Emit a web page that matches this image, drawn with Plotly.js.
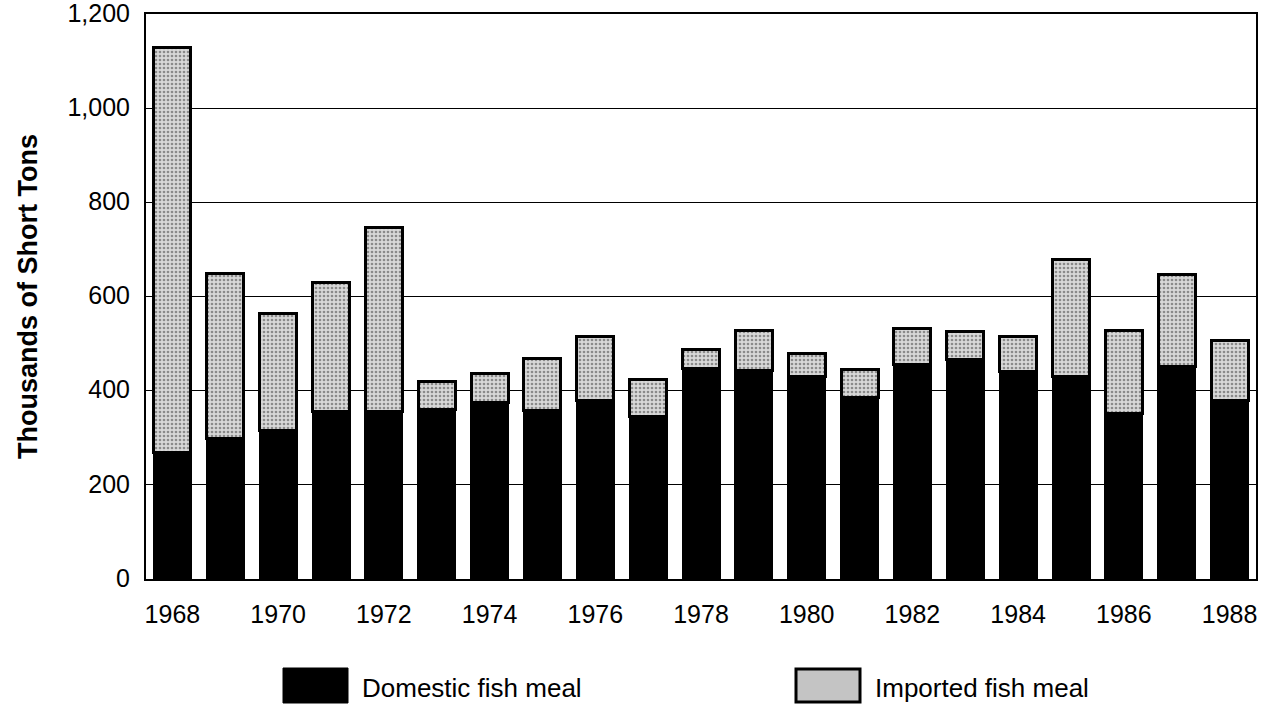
<!DOCTYPE html>
<html>
<head>
<meta charset="utf-8">
<script src="https://cdn.plot.ly/plotly-3.0.1.min.js"></script>
<style>html,body{margin:0;padding:0;background:#fff;}#chart{width:1265px;height:707px;}</style>
</head>
<body>
<div id="chart"></div>
<script>
const years = [1968,1969,1970,1971,1972,1973,1974,1975,1976,1977,1978,1979,1980,1981,1982,1983,1984,1985,1986,1987,1988];
const domestic = [268,298,315,355,355,361,374,357,379,345,447,442,431,385,455,466,440,430,351,452,379];
const totals   = [1129,648,564,630,746,420,437,469,514,423,487,527,480,444,531,525,516,678,528,647,506];
const imported = totals.map((t,i)=>t-domestic[i]);
const tickYears = [1968,1970,1972,1974,1976,1978,1980,1982,1984,1986,1988];
const yTicks = [0,200,400,600,800,1000,1200];
const yTickText = ['0','200','400','600','800','1,000','1,200'];
const seriesNames = ['Domestic fish meal','Imported fish meal'];

const font = 'Liberation Sans, Arial, Helvetica, sans-serif';
const grayFill = '#c4c4c4';

const traces = [
  {type:'bar', x:years, y:domestic, name:seriesNames[0],
   marker:{color:'#000', line:{color:'#000', width:2}}, showlegend:false, hoverinfo:'x+y'},
  {type:'bar', x:years, y:imported, name:seriesNames[1],
   marker:{color:grayFill, line:{color:'#000', width:3},
     pattern:{shape:'.', fgcolor:'#8a8a8a', bgcolor:'#d8d8d8', size:4, solidity:0.35}},
   showlegend:false, hoverinfo:'x+y'}
];

const mTop = 14, mBot = 128;
const pw = 1110, ph = 707 - mTop - mBot;
const px = v => (v-146)/pw;
const py = v => (579-v)/ph;

const shapes = [
  {type:'rect', xref:'paper', yref:'paper', x0:px(283), x1:px(348), y0:py(703), y1:py(668),
   fillcolor:'#000', line:{color:'#000', width:1}},
  {type:'rect', xref:'paper', yref:'paper', x0:px(796), x1:px(860), y0:py(702), y1:py(669),
   fillcolor:grayFill, line:{color:'#000', width:3}}
];

const annotations = [
  {xref:'paper', yref:'paper', x:px(360), y:py(688), xanchor:'left', yanchor:'middle',
   text:seriesNames[0], showarrow:false, font:{family:font, size:26, color:'#000'}},
  {xref:'paper', yref:'paper', x:px(873), y:py(688), xanchor:'left', yanchor:'middle',
   text:seriesNames[1], showarrow:false, font:{family:font, size:26, color:'#000'}}
];

const layout = {
  width:1265, height:707,
  margin:{l:146, r:9, t:mTop, b:mBot},
  paper_bgcolor:'#fff', plot_bgcolor:'#fff',
  barmode:'stack', bargap:0.3,
  showlegend:false,
  font:{family:font, color:'#000'},
  xaxis:{
    range:[1967.5,1988.5], tickvals:tickYears, ticktext:tickYears.map(String),
    showgrid:false, zeroline:false, ticks:'', showline:true, linecolor:'#000', linewidth:2,
    mirror:true, tickfont:{family:font, size:25, color:'#000'}, ticklabelstandoff:12, fixedrange:true
  },
  yaxis:{
    range:[0,1200], tickvals:yTicks, ticktext:yTickText,
    showgrid:true, gridcolor:'#000', gridwidth:1, zeroline:false,
    showline:true, linecolor:'#000', linewidth:2, mirror:true, ticks:'',
    tickfont:{family:font, size:25, color:'#000'}, ticklabelstandoff:9,
    ticklabeloverflow:'allow', ticklabelshift:-1,
    title:{text:'<b>Thousands of Short Tons</b>', font:{family:font, size:27, color:'#000'}, standoff:22},
    fixedrange:true
  },
  shapes:shapes,
  annotations:annotations
};

Plotly.newPlot('chart', traces, layout, {displayModeBar:false, staticPlot:true});
</script>
</body>
</html>
